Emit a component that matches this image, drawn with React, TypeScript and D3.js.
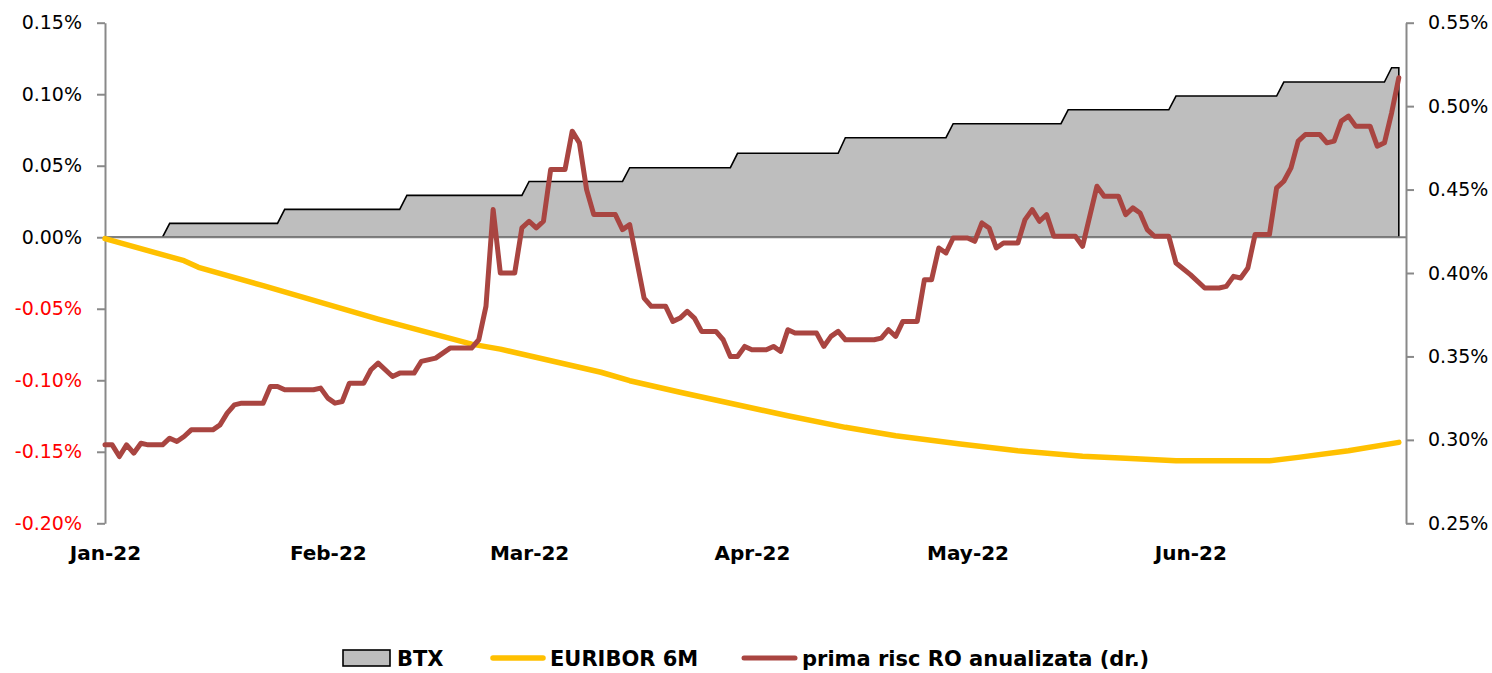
import React, { useRef, useEffect } from "react";
import { select, scaleTime, scaleLinear, line, area, axisLeft, axisRight, axisBottom, timeParse, timeFormat, timeMonth } from "d3";

// BTX, left axis (% points at each step edge)
const btx: [string, number][] = [
  ["2022-01-01", 0], ["2022-01-09", 0],
  ["2022-01-10", 0.0097], ["2022-01-25", 0.0097],
  ["2022-01-26", 0.0195], ["2022-02-11", 0.0195],
  ["2022-02-12", 0.0293], ["2022-02-28", 0.0293],
  ["2022-03-01", 0.039], ["2022-03-14", 0.039],
  ["2022-03-15", 0.0486], ["2022-03-29", 0.0486],
  ["2022-03-30", 0.0587], ["2022-04-13", 0.0587],
  ["2022-04-14", 0.0696], ["2022-04-28", 0.0696],
  ["2022-04-29", 0.0794], ["2022-05-14", 0.0794],
  ["2022-05-15", 0.0891], ["2022-05-29", 0.0891],
  ["2022-05-30", 0.0987], ["2022-06-13", 0.0987],
  ["2022-06-14", 0.1085], ["2022-06-28", 0.1085],
  ["2022-06-29", 0.1185], ["2022-06-30", 0.1185],
];

// EURIBOR 6M, left axis
const euribor: [string, number][] = [
  ["2022-01-01", -0.001], ["2022-01-12", -0.0164], ["2022-01-14", -0.021],
  ["2022-01-23", -0.0339], ["2022-02-08", -0.0572], ["2022-02-21", -0.0747],
  ["2022-02-25", -0.0782], ["2022-03-11", -0.0944], ["2022-03-15", -0.1003],
  ["2022-03-22", -0.1084], ["2022-03-29", -0.1161], ["2022-04-06", -0.1248],
  ["2022-04-14", -0.1329], ["2022-04-21", -0.1388], ["2022-04-30", -0.1446],
  ["2022-05-08", -0.1493], ["2022-05-17", -0.1532], ["2022-05-23", -0.1546],
  ["2022-05-30", -0.1563], ["2022-06-12", -0.1563], ["2022-06-16", -0.1539],
  ["2022-06-23", -0.1493], ["2022-06-30", -0.1434],
];

// prima risc RO anualizata, right axis
const prima: [string, number][] = [
  ["2022-01-01", 0.297], ["2022-01-02", 0.297], ["2022-01-03", 0.290], ["2022-01-04", 0.297],
  ["2022-01-05", 0.292], ["2022-01-06", 0.298], ["2022-01-07", 0.297], ["2022-01-09", 0.297],
  ["2022-01-10", 0.301], ["2022-01-11", 0.299], ["2022-01-12", 0.302], ["2022-01-13", 0.306],
  ["2022-01-14", 0.306], ["2022-01-16", 0.306], ["2022-01-17", 0.309], ["2022-01-18", 0.316],
  ["2022-01-19", 0.321], ["2022-01-20", 0.322], ["2022-01-23", 0.322], ["2022-01-24", 0.332],
  ["2022-01-25", 0.332], ["2022-01-26", 0.330], ["2022-01-30", 0.330], ["2022-01-31", 0.331],
  ["2022-02-01", 0.325], ["2022-02-02", 0.322], ["2022-02-03", 0.323], ["2022-02-04", 0.334],
  ["2022-02-06", 0.334], ["2022-02-07", 0.342], ["2022-02-08", 0.346], ["2022-02-10", 0.338],
  ["2022-02-11", 0.340], ["2022-02-13", 0.340], ["2022-02-14", 0.347], ["2022-02-16", 0.349],
  ["2022-02-18", 0.355], ["2022-02-21", 0.355], ["2022-02-22", 0.360], ["2022-02-23", 0.380],
  ["2022-02-24", 0.438], ["2022-02-25", 0.400], ["2022-02-27", 0.400], ["2022-02-28", 0.427],
  ["2022-03-01", 0.431], ["2022-03-02", 0.427], ["2022-03-03", 0.431], ["2022-03-04", 0.462],
  ["2022-03-06", 0.462], ["2022-03-07", 0.485], ["2022-03-08", 0.478], ["2022-03-09", 0.450],
  ["2022-03-10", 0.435], ["2022-03-13", 0.435], ["2022-03-14", 0.426], ["2022-03-15", 0.429],
  ["2022-03-17", 0.385], ["2022-03-18", 0.380], ["2022-03-20", 0.380], ["2022-03-21", 0.371],
  ["2022-03-22", 0.373], ["2022-03-23", 0.377], ["2022-03-24", 0.373], ["2022-03-25", 0.365],
  ["2022-03-27", 0.365], ["2022-03-28", 0.360], ["2022-03-29", 0.350], ["2022-03-30", 0.350],
  ["2022-03-31", 0.356], ["2022-04-01", 0.354], ["2022-04-03", 0.354], ["2022-04-04", 0.356],
  ["2022-04-05", 0.353], ["2022-04-06", 0.366], ["2022-04-07", 0.364], ["2022-04-10", 0.364],
  ["2022-04-11", 0.356], ["2022-04-12", 0.362], ["2022-04-13", 0.365], ["2022-04-14", 0.360],
  ["2022-04-18", 0.360], ["2022-04-19", 0.361], ["2022-04-20", 0.366], ["2022-04-21", 0.362],
  ["2022-04-22", 0.371], ["2022-04-24", 0.371], ["2022-04-25", 0.396], ["2022-04-26", 0.396],
  ["2022-04-27", 0.415], ["2022-04-28", 0.412], ["2022-04-29", 0.421], ["2022-05-01", 0.421],
  ["2022-05-02", 0.419], ["2022-05-03", 0.430], ["2022-05-04", 0.427], ["2022-05-05", 0.415],
  ["2022-05-06", 0.418], ["2022-05-08", 0.418], ["2022-05-09", 0.432], ["2022-05-10", 0.438],
  ["2022-05-11", 0.431], ["2022-05-12", 0.435], ["2022-05-13", 0.422], ["2022-05-16", 0.422],
  ["2022-05-17", 0.416], ["2022-05-19", 0.452], ["2022-05-20", 0.446], ["2022-05-22", 0.446],
  ["2022-05-23", 0.435], ["2022-05-24", 0.439], ["2022-05-25", 0.436], ["2022-05-26", 0.426],
  ["2022-05-27", 0.422], ["2022-05-29", 0.422], ["2022-05-30", 0.406], ["2022-06-01", 0.399],
  ["2022-06-03", 0.391], ["2022-06-05", 0.391], ["2022-06-06", 0.392], ["2022-06-07", 0.398],
  ["2022-06-08", 0.397], ["2022-06-09", 0.403], ["2022-06-10", 0.423], ["2022-06-12", 0.423],
  ["2022-06-13", 0.451], ["2022-06-14", 0.455], ["2022-06-15", 0.463], ["2022-06-16", 0.479],
  ["2022-06-17", 0.483], ["2022-06-19", 0.483], ["2022-06-20", 0.478], ["2022-06-21", 0.479],
  ["2022-06-22", 0.491], ["2022-06-23", 0.494], ["2022-06-24", 0.488], ["2022-06-26", 0.488],
  ["2022-06-27", 0.476], ["2022-06-28", 0.478], ["2022-06-29", 0.496], ["2022-06-30", 0.517],
];

const leftTicks = [-0.2, -0.15, -0.1, -0.05, 0, 0.05, 0.1, 0.15];
const rightTicks = [0.25, 0.3, 0.35, 0.4, 0.45, 0.5, 0.55];
const legendLabels = ["BTX", "EURIBOR 6M", "prima risc RO anualizata (dr.)"];

const FONT = "'DejaVu Sans', Verdana, sans-serif";
const AXIS_GRAY = "#898989";

export default function App() {
  const svgRef = useRef<SVGSVGElement>(null);

  useEffect(() => {
    const svg = select(svgRef.current);
    svg.selectAll("*").remove();

    const parse = timeParse("%Y-%m-%d");
    const left = 105;
    const right = 1406;
    const top = 22.7;
    const bottom = 523.3;

    const x = scaleTime()
      .domain([parse("2022-01-01")!, parse("2022-07-01")!])
      .range([left, right]);
    const yL = scaleLinear().domain([-0.2, 0.15]).range([bottom, top]);
    const yR = scaleLinear().domain([0.25, 0.55]).range([bottom, top]);

    // BTX area
    const btxArea = area<[string, number]>()
      .x(d => x(parse(d[0])!))
      .y0(yL(0))
      .y1(d => yL(d[1]));
    svg.append("path")
      .datum(btx)
      .attr("d", btxArea)
      .attr("fill", "#BEBEBE")
      .attr("stroke", "#000")
      .attr("stroke-width", 1.6);

    // zero line
    svg.append("line")
      .attr("x1", left).attr("x2", right)
      .attr("y1", yL(0)).attr("y2", yL(0))
      .attr("stroke", "#808080")
      .attr("stroke-width", 2);

    // left axis
    const gL = svg.append("g")
      .attr("transform", `translate(${left},0)`)
      .call(axisLeft(yL).tickValues(leftTicks).tickSize(8).tickSizeOuter(0).tickPadding(15)
        .tickFormat(d => (+d).toFixed(2) + "%"));
    gL.selectAll("text")
      .attr("font-family", FONT).attr("font-size", 19)
      .attr("fill", (d: any) => (d < 0 ? "#FF0000" : "#000"));

    // right axis
    const gR = svg.append("g")
      .attr("transform", `translate(${right},0)`)
      .call(axisRight(yR).tickValues(rightTicks).tickSize(8).tickSizeOuter(0).tickPadding(14)
        .tickFormat(d => (+d).toFixed(2) + "%"));
    gR.selectAll("text")
      .attr("font-family", FONT).attr("font-size", 19).attr("fill", "#000");

    [gL, gR].forEach(g => {
      g.select(".domain").attr("stroke", AXIS_GRAY).attr("stroke-width", 2);
      g.selectAll(".tick line").attr("stroke", AXIS_GRAY).attr("stroke-width", 2);
    });

    // month labels
    const gX = svg.append("g")
      .attr("transform", "translate(0,546)")
      .call(axisBottom(x).ticks(timeMonth.every(1)).tickSize(0).tickPadding(0)
        .tickFormat(d => timeFormat("%b-%y")(d as Date)));
    gX.select(".domain").remove();
    gX.selectAll(".tick")
      .filter((d: any) => d.getMonth() > 5)
      .remove();
    gX.selectAll("text")
      .attr("font-family", FONT).attr("font-size", 20).attr("font-weight", "bold").attr("fill", "#000");

    // EURIBOR line
    const eurLine = line<[string, number]>()
      .x(d => x(parse(d[0])!))
      .y(d => yL(d[1]));
    svg.append("path")
      .datum(euribor)
      .attr("d", eurLine)
      .attr("fill", "none")
      .attr("stroke", "#FFC000")
      .attr("stroke-width", 5.5)
      .attr("stroke-linejoin", "round")
      .attr("stroke-linecap", "round");

    // prima risc line
    const primaLine = line<[string, number]>()
      .x(d => x(parse(d[0])!))
      .y(d => yR(d[1]));
    svg.append("path")
      .datum(prima)
      .attr("d", primaLine)
      .attr("fill", "none")
      .attr("stroke", "#A94541")
      .attr("stroke-width", 5)
      .attr("stroke-linejoin", "round")
      .attr("stroke-linecap", "round");

    // legend
    const lg = svg.append("g").attr("font-family", FONT).attr("font-size", 21).attr("font-weight", "bold");
    const ly = 658;
    lg.append("rect")
      .attr("x", 343).attr("y", ly - 8).attr("width", 47).attr("height", 16)
      .attr("fill", "#BEBEBE").attr("stroke", "#000").attr("stroke-width", 1.6);
    lg.append("text").attr("x", 397).attr("y", ly + 8).text(legendLabels[0]);
    lg.append("line")
      .attr("x1", 493).attr("x2", 543).attr("y1", ly).attr("y2", ly)
      .attr("stroke", "#FFC000").attr("stroke-width", 5.5).attr("stroke-linecap", "round");
    lg.append("text").attr("x", 550).attr("y", ly + 8).text(legendLabels[1]);
    lg.append("line")
      .attr("x1", 744).attr("x2", 795).attr("y1", ly).attr("y2", ly)
      .attr("stroke", "#A94541").attr("stroke-width", 5).attr("stroke-linecap", "round");
    lg.append("text").attr("x", 802).attr("y", ly + 8).text(legendLabels[2]);
  }, []);

  return (
    <svg
      ref={svgRef}
      width="1492"
      height="673"
      style={{ position: "absolute", left: 0, top: 0, display: "block", background: "#fff" }}
    />
  );
}
